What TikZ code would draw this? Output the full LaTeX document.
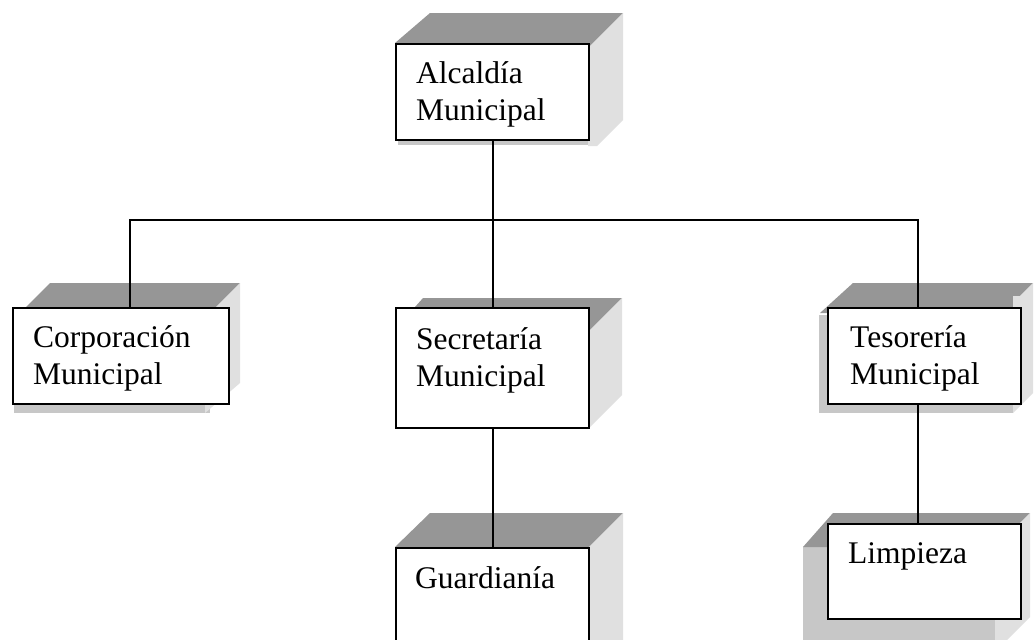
\documentclass[tikz,border=0pt]{standalone}
\usepackage{fontspec}
\setmainfont{Liberation Serif}
\begin{document}
\begin{tikzpicture}[x=1pt,y=-1pt,
  topface/.style={fill=black!41},
  sideface/.style={fill=black!12},
  shadowface/.style={fill=black!22},
  frontbox/.style={draw=black, fill=white, line width=2.2pt, inner sep=0pt, anchor=north west, minimum width=193pt},
  lbl/.style={anchor=base west, inner sep=0pt, align=left, font=\fontsize{31.5}{36.5}\selectfont},
  conn/.style={draw=black, line width=2pt}]
\clip (0,0) rectangle (1034,640);
\fill[white] (0,0) rectangle (1034,640);

% Alcaldia
\fill[shadowface] (398,50) rectangle (597,145);
\fill[topface] (395,43) -- (430,13) -- (623,13) -- (588,48) -- (588,43) -- cycle;
\fill[sideface] (588,48) -- (623,13) -- (623,120) -- (597,146) -- (588,146) -- cycle;
\node[frontbox, minimum height=96pt] (alc) at (395,43) {};
\node[lbl] (alcT) at (416,120) {Alcaldía\\Municipal};

% Corporacion
\fill[shadowface] (14,313) rectangle (210,413);
\fill[topface] (26,307) -- (50,283) -- (240,283) -- (216,307) -- cycle;
\fill[sideface] (216,307) -- (240,283) -- (240,383) -- (205,413) -- (205,307) -- cycle;
\node[frontbox, minimum width=216pt, minimum height=96pt] (cor) at (12,307) {};
\node[lbl] (corT) at (33,384) {Corporación\\Municipal};

% Secretaria
\fill[topface] (415,307) -- (423,298) -- (622,298) -- (588,332) -- (588,307) -- cycle;
\fill[sideface] (588,332) -- (622,298) -- (622,395) -- (590,427) -- (588,427) -- cycle;
\node[frontbox, minimum height=120pt] (sec) at (395,307) {};
\node[lbl] (secT) at (416,386) {Secretaría\\Municipal};

% Tesoreria
\fill[shadowface] (819,315) rectangle (1013,413);
\fill[topface] (820,313) -- (853,283) -- (1033,283) -- (1020,296) -- (1020,307) -- (827,307) -- (827,313) -- cycle;
\fill[sideface] (1020,296) -- (1033,283) -- (1033,393) -- (1013,413) -- (1013,296) -- cycle;
\node[frontbox, minimum height=96pt] (tes) at (827,307) {};
\node[lbl] (tesT) at (850,384) {Tesorería\\Municipal};

% Guardiania
\fill[topface] (395,547) -- (430,513) -- (623,513) -- (588,548) -- cycle;
\fill[sideface] (588,548) -- (623,513) -- (623,660) -- (588,660) -- cycle;
\node[frontbox, minimum height=120pt] (gua) at (395,547) {};
\node[lbl] (guaT) at (415,588) {Guardianía};

% Limpieza
\fill[shadowface] (803,547) rectangle (995,660);
\fill[topface] (803,547) -- (833,513) -- (1030,513) -- (1020,523) -- (827,523) -- (827,547) -- cycle;
\fill[sideface] (1020,523) -- (1030,513) -- (1030,617) -- (995,652) -- (995,523) -- cycle;
\node[frontbox, minimum height=95pt] (lim) at (827,523) {};
\node[lbl] (limT) at (848,563) {Limpieza};

% connectors
\coordinate (bus) at (491.5,220);
\draw[conn] (alc.south) -- (sec.north);
\draw[conn] ([xshift=9pt]cor.north) |- (bus) -| ([xshift=-6.5pt]tes.north);
\draw[conn] (sec.south) -- (gua.north);
\draw[conn] ([xshift=-6.5pt]tes.south) -- ([xshift=-6.5pt]lim.north);
\end{tikzpicture}
\end{document}
